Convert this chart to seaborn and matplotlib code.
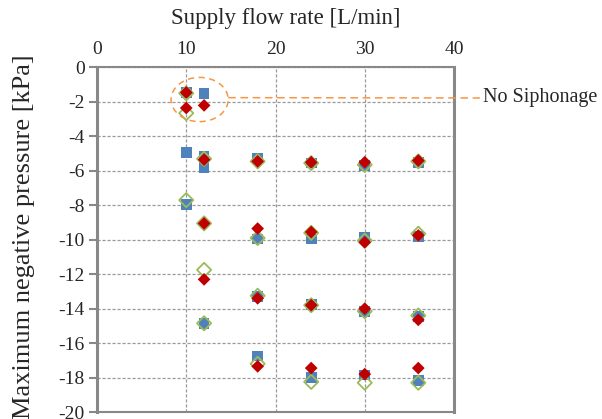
import numpy as np
import pandas as pd
import seaborn as sns
import matplotlib.pyplot as plt
from matplotlib.patches import Ellipse

# flow rate [L/min] and max negative pressure [kPa] per marker series
blue_x = [10, 12, 10, 12, 12, 18, 24, 30, 36, 10, 18, 24, 30, 36, 12, 18, 24, 30, 36, 18, 24, 30, 36]
blue_y = [-1.45, -1.5, -4.95, -5.15, -5.8, -5.25, -5.55, -5.7, -5.5, -7.95, -9.95, -9.95, -9.85, -9.8,
          -14.85, -13.3, -13.75, -14.15, -14.45, -16.75, -18.0, -17.85, -18.15]

red_x = [10, 10, 12, 12, 18, 24, 30, 36, 12, 18, 24, 30, 36, 12, 18, 24, 30, 36, 18, 24, 30, 36]
red_y = [-1.45, -2.35, -2.2, -5.35, -5.45, -5.5, -5.5, -5.4, -9.05, -9.35, -9.55, -10.15, -9.75,
         -12.3, -13.4, -13.8, -14.0, -14.65, -17.35, -17.45, -17.8, -17.45]

green_x = [10, 10, 12, 18, 24, 30, 36, 10, 12, 18, 24, 30, 36, 12, 18, 24, 30, 36, 12, 18, 24, 30, 36]
green_y = [-1.5, -2.65, -5.3, -5.45, -5.55, -5.65, -5.45, -7.7, -9.05, -9.9, -9.6, -10.05, -9.65,
           -11.75, -13.25, -13.8, -14.15, -14.4, -14.85, -17.2, -18.25, -18.3, -18.3]

x_ticks = [0, 10, 20, 30, 40]
y_ticks = [0, -2, -4, -6, -8, -10, -12, -14, -16, -18, -20]

sns.set_style("white")
plt.rcParams['font.family'] = ['Liberation Serif', 'DejaVu Serif']
plt.rcParams['axes.unicode_minus'] = False

fig = plt.figure(figsize=(6.02, 4.19), dpi=100)
ax = fig.add_axes([97 / 602, 1 - 412 / 419, (454 - 97) / 602, (412 - 67.5) / 419])

sns.scatterplot(x=blue_x, y=blue_y, marker='s', s=60, color='#4F81BD', edgecolor='none', ax=ax, zorder=3)
sns.scatterplot(x=green_x, y=green_y, marker='D', s=52, facecolor='none', edgecolor='#9BBB59',
                linewidth=1.3, ax=ax, zorder=4)
sns.scatterplot(x=red_x, y=red_y, marker='D', s=42, color='#C00000', edgecolor='none', ax=ax, zorder=5)

ax.set_xlim(0, 40)
ax.set_ylim(-20, 0)
ax.set_xticks(x_ticks)
ax.set_yticks(y_ticks)
ax.xaxis.tick_top()
ax.xaxis.set_label_position('top')
ax.set_xlabel('Supply flow rate [L/min]', fontsize=16.5, va='center')
ax.set_ylabel('Maximum negative pressure [kPa]', fontsize=19, va='center')
ax.xaxis.set_label_coords(0.53, 1.143)
ax.yaxis.set_label_coords(-0.205, 0.51)
ax.tick_params(axis='x', length=0, pad=7, labelsize=14)
ax.tick_params(axis='y', length=6, width=1.5, color='#888888', pad=3, labelsize=14, left=True)

ax.grid(True, linestyle=(0, (2.5, 1.5)), color='#9a9a9a', linewidth=0.9)
ax.set_axisbelow(True)
for side in ['left', 'right', 'top', 'bottom']:
    ax.spines[side].set_color('#888888')
    ax.spines[side].set_linewidth(1.5)
ax.spines['left'].set_linewidth(2.2)
ax.spines['right'].set_linewidth(2.2)

# "No Siphonage" callout
ax.add_patch(Ellipse((11.5, -1.86), 6.4, 2.57, fill=False, edgecolor='#F79646',
                     linestyle=(0, (4, 3)), linewidth=1.1, zorder=6))
ax.plot([14.7, 42.9], [-1.75, -1.77], color='#F79646', linestyle=(0, (5, 3)), linewidth=1.1,
        clip_on=False, zorder=6)
ax.text(43.3, -1.76, 'No Siphonage', fontsize=14.5, va='center', ha='left', clip_on=False)

fig.savefig('out.png', dpi=100)
